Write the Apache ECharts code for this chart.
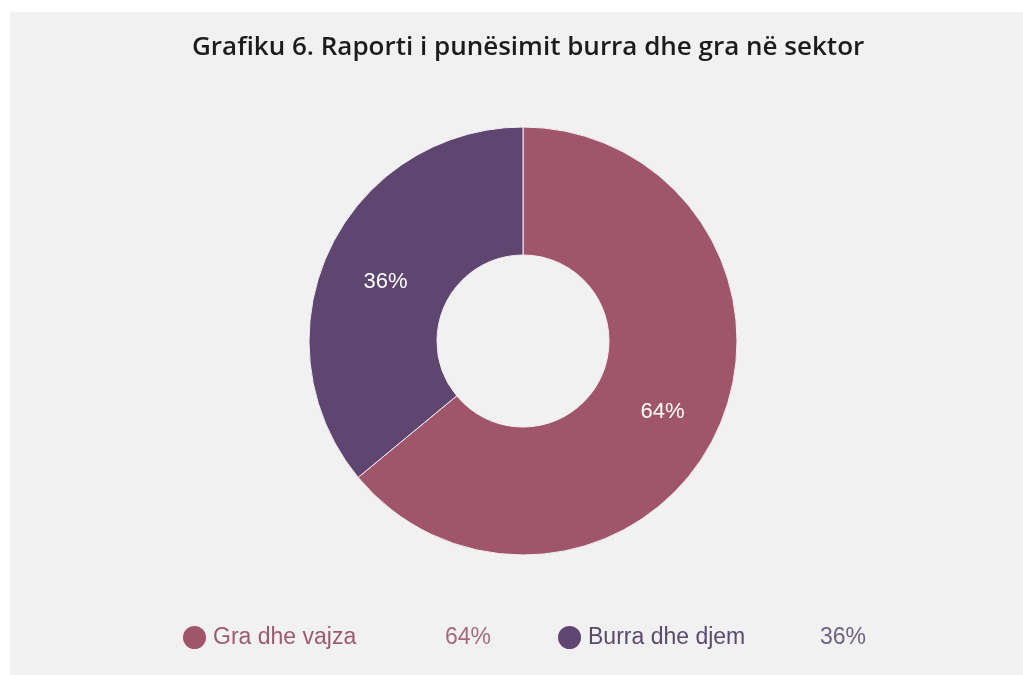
<!DOCTYPE html>
<html><head><meta charset="utf-8">
<script src="https://cdn.jsdelivr.net/npm/echarts@6/dist/echarts.min.js"></script>
<style>
html,body{margin:0;padding:0;background:#ffffff;width:1023px;height:675px;overflow:hidden;}
#bg{position:absolute;left:10px;top:12px;width:1013px;height:663px;background:#f1f1f1;}
#c{position:absolute;left:0;top:0;width:1023px;height:675px;}
</style></head>
<body><div id="bg"></div><div id="c"></div>
<script>
const titleText = 'Grafiku 6. Raporti i punësimit burra dhe gra në sektor';
const categories = ['Gra dhe vajza', 'Burra dhe djem'];
const values = [64, 36];
const colors = ['#a0566a', '#5e4670'];
const legendNameColors = ['#9b5a72', '#5a4a6e'];
const legendPctColors = ['#a46a82', '#6e6284'];

const chart = echarts.init(document.getElementById('c'), null, {renderer: 'canvas'});
const total = values.reduce((a, b) => a + b, 0);
chart.setOption({
  backgroundColor: 'transparent',
  animation: false,
  title: {
    text: titleText,
    left: 187,
    top: 30,
    textStyle: {fontFamily: 'Open Sans', fontSize: 26, fontWeight: 600, color: '#1c1c1c'}
  },
  legend: {
    top: 619,
    left: 176,
    icon: 'circle',
    itemWidth: 25,
    itemHeight: 25,
    itemGap: 65,
    data: categories.map((c, i) => ({
      name: c,
      textStyle: {
        rich: {
          n: {width: 232, padding: [0, 0, 0, 1], fontFamily: 'Liberation Sans', fontSize: 23, color: legendNameColors[i]},
          p: {fontFamily: 'Liberation Sans', fontSize: 23, color: legendPctColors[i]}
        }
      }
    })),
    formatter: name => {
      const i = categories.indexOf(name);
      return '{n|' + name + '}{p|' + Math.round(values[i] / total * 100) + '%}';
    }
  },
  series: [{
    type: 'pie',
    center: [523, 341],
    radius: [86, 214],
    startAngle: 90,
    clockwise: true,
    data: categories.map((c, i) => ({name: c, value: values[i], itemStyle: {color: colors[i]}})),
    itemStyle: {borderColor: '#f4eef2', borderWidth: 1},
    label: {
      show: true,
      position: 'inside',
      formatter: p => Math.round(p.percent) + '%',
      color: '#ffffff',
      fontFamily: 'Liberation Sans',
      fontSize: 22,
      offset: [1, 6]
    },
    labelLine: {show: false},
    emphasis: {disabled: true}
  }]
});
</script></body></html>
